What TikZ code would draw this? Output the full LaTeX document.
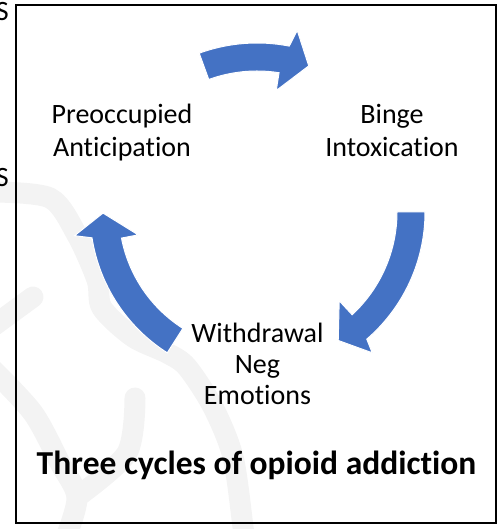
\documentclass[tikz,border=0pt]{standalone}
\usepackage{fontspec}
\setmainfont{Carlito}[Ligatures=NoCommon]
\usetikzlibrary{positioning}
\definecolor{cycblue}{HTML}{4472C4}
\definecolor{wmgray}{HTML}{F3F3F3}
\tikzstyle{stage} = [align=center, inner sep=0pt, font=\fontsize{28}{33}\selectfont]
\tikzstyle{titletext} = [inner sep=0pt, font=\fontsize{33.5}{40}\selectfont\bfseries]
\tikzstyle{cycarrow} = [fill=cycblue, draw=white, line width=1pt]
\tikzstyle{watermark} = [draw=wmgray, line width=21pt, line cap=round]
\tikzstyle{frame} = [draw=black, line width=2pt]

\begin{document}
\begin{tikzpicture}[x=1pt,y=1pt]
\useasboundingbox (0,0) rectangle (502,529);

% faint watermark behind the box
\draw [watermark] plot[smooth] coordinates {(-8,337) (50,331) (77,294) (97,249) (102,221) (133,192) (167,176) (187,162) (213,122) (233,72) (243,2) (244,-8)};
\draw [watermark] (33,232) -- (-8,202);
\draw [watermark] plot[smooth] coordinates {(135,131) (127,76) (77,32)};
\draw [watermark] plot[smooth] coordinates {(-8,160) (33,116) (60,66) (77,32) (66,-8)};

% cut-off letters at the left edge
\node (s1) [stage, anchor=base east] at (9,508) {S};
\node (s2) [stage, anchor=base east] at (9,342) {S};

\draw [frame] (16,6) rectangle (496,524);

\coordinate (hub) at (257,317);

\node (pre) [stage, anchor=base] at (122,372) {Preoccupied\\Anticipation};
\node (binge) [stage, anchor=base] at (392,372) {Binge\\Intoxication};
\node (withd) [stage, anchor=base, font=\fontsize{28}{31}\selectfont] at (257.5,124) {Withdrawal\\Neg\\Emotions};

\node (title) [titletext, anchor=base] at (256.5,54) {Three cycles of opioid addiction};

% the three block arrows round the hub
\begin{scope}[shift={(hub)}]
\fill [cycarrow] (110:169) arc[start angle=110, end angle=79, radius=169] -- (77.5:186) -- (70.5:155) -- (81:123) -- (81:141) arc[start angle=81, end angle=110, radius=141] -- cycle;
\fill [cycarrow] (0:168) arc[start angle=0, end angle=-49.2, radius=168] -- (-50.7:182) -- (-57.7:152) -- (-47.2:121) -- (-47.2:140) arc[start angle=-47.2, end angle=0, radius=140] -- cycle;
\fill [cycarrow] (237.5:167) arc[start angle=237.5, end angle=188.9, radius=167] -- (187.4:184) -- (180.4:154) -- (190.9:121) -- (190.9:138) arc[start angle=190.9, end angle=237.5, radius=138] -- cycle;
\end{scope}

\end{tikzpicture}
\end{document}
